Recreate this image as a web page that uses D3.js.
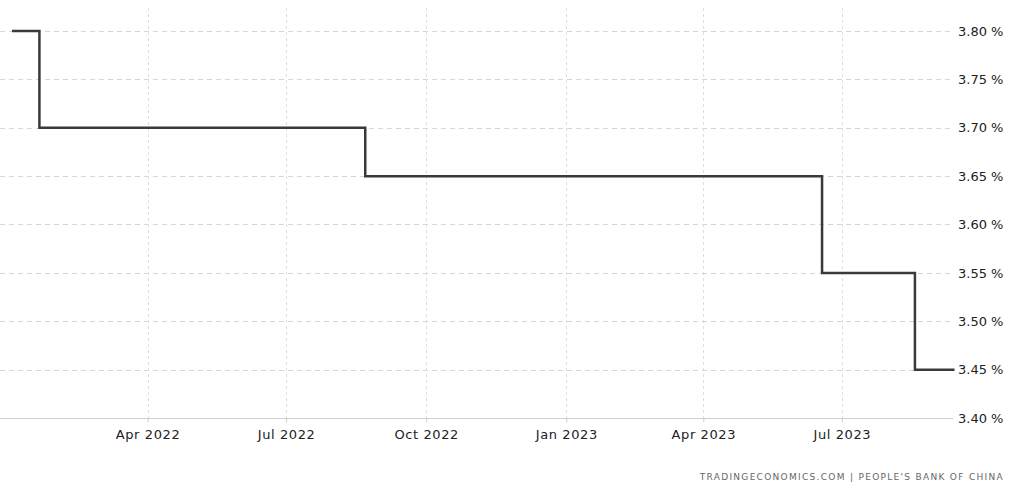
<!DOCTYPE html>
<html>
<head>
<meta charset="utf-8">
<script src="https://cdn.jsdelivr.net/npm/d3@7"></script>
<style>
  html, body { margin: 0; padding: 0; background: #fff; }
  svg { display: block; }
  text { font-family: "DejaVu Sans", Verdana, sans-serif; }
</style>
</head>
<body>
<svg id="chart" width="1009" height="485"></svg>
<script>
// ---- data ----
const dates = ["2022-01-02", "2022-01-20", "2022-08-22", "2023-06-18", "2023-08-18", "2023-09-13"];
const values = [3.80, 3.70, 3.65, 3.55, 3.45, 3.45];
const yTicks = [3.40, 3.45, 3.50, 3.55, 3.60, 3.65, 3.70, 3.75, 3.80];
const xTickDates = ["2022-04-01", "2022-07-01", "2022-10-01", "2023-01-01", "2023-04-01", "2023-07-01"];
const xTickLabels = ["Apr 2022", "Jul 2022", "Oct 2022", "Jan 2023", "Apr 2023", "Jul 2023"];
const sourceText = "TRADINGECONOMICS.COM  |  PEOPLE'S BANK OF CHINA";

const parse = d3.utcParse("%Y-%m-%d");
const data = dates.map((d, i) => ({ date: parse(d), value: values[i] }));
const xTicks = xTickDates.map(parse);

const svg = d3.select("#chart");
const plotLeft = 12, plotRight = 953, plotTop = 31, plotBottom = 418;

const x = d3.scaleUtc()
  .domain([parse("2022-01-02"), parse("2023-09-12")])
  .range([plotLeft, plotRight]);
const y = d3.scaleLinear().domain([3.40, 3.80]).range([plotBottom, plotTop]);

// horizontal grid
svg.append("g").selectAll("line")
  .data(yTicks)
  .join("line")
  .attr("x1", 0).attr("x2", plotRight)
  .attr("y1", d => Math.round(y(d)) + 0.5).attr("y2", d => Math.round(y(d)) + 0.5)
  .attr("stroke", d => d === 3.40 ? "#cfcfcf" : "#d6d6d6")
  .attr("stroke-width", 1)
  .attr("stroke-dasharray", d => d === 3.40 ? null : "5,4");

// vertical grid
svg.append("g").selectAll("line")
  .data(xTicks)
  .join("line")
  .attr("x1", d => Math.round(x(d)) + 0.5).attr("x2", d => Math.round(x(d)) + 0.5)
  .attr("y1", 8).attr("y2", plotBottom)
  .attr("stroke", "#dedede")
  .attr("stroke-width", 1)
  .attr("stroke-dasharray", "3,3");

// x axis
const xAxis = d3.axisBottom(x)
  .tickValues(xTicks)
  .tickFormat((d, i) => xTickLabels[i])
  .tickSize(4)
  .tickPadding(8);
const gx = svg.append("g").attr("transform", `translate(0,${plotBottom})`).call(xAxis);
gx.select(".domain").remove();
gx.selectAll(".tick line").attr("stroke", "#ccc");
gx.selectAll(".tick text")
  .attr("fill", "#222")
  .style("font-size", "13px")
  .style("letter-spacing", "0.6px")
  .style("font-family", "'DejaVu Sans', Verdana, sans-serif");

// y axis (right)
const yAxis = d3.axisRight(y)
  .tickValues(yTicks)
  .tickFormat(d => d3.format(".2f")(d) + " %")
  .tickSize(0)
  .tickPadding(5);
const gy = svg.append("g").attr("transform", `translate(${plotRight},0)`).call(yAxis);
gy.select(".domain").remove();
gy.selectAll(".tick text")
  .attr("fill", "#222")
  .style("font-size", "13px")
  .style("font-family", "'DejaVu Sans', Verdana, sans-serif");

// step line
const line = d3.line()
  .x(d => x(d.date))
  .y(d => y(d.value))
  .curve(d3.curveStepAfter);
svg.append("path")
  .datum(data)
  .attr("fill", "none")
  .attr("stroke", "#3a3a3a")
  .attr("stroke-width", 2.5)
  .attr("d", line);

// source
svg.append("text")
  .attr("x", 1004).attr("y", 480)
  .attr("text-anchor", "end")
  .attr("fill", "#666")
  .style("font-size", "9px")
  .style("letter-spacing", "1.3px")
  .text(sourceText);
</script>
</body>
</html>
